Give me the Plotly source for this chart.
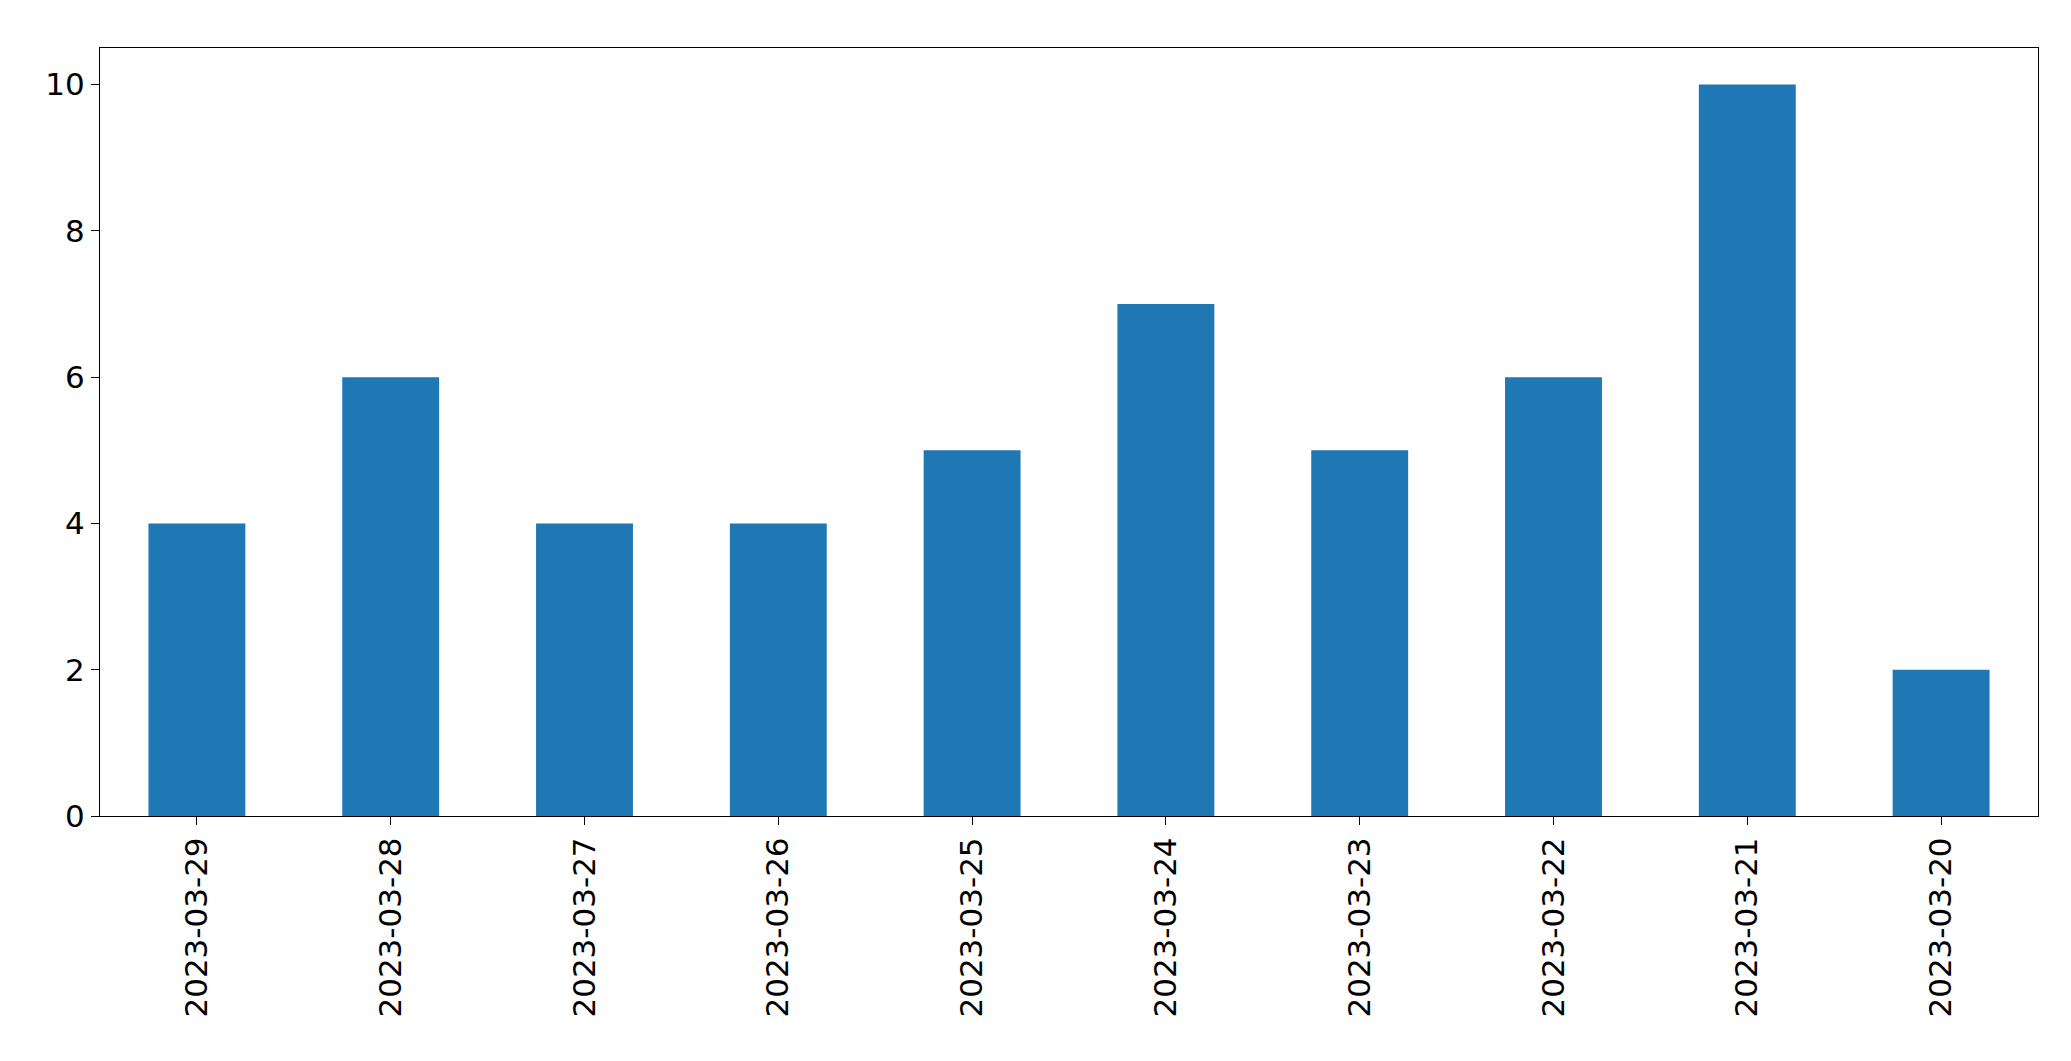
import plotly.graph_objects as go

dates = ["2023-03-29","2023-03-28","2023-03-27","2023-03-26","2023-03-25",
         "2023-03-24","2023-03-23","2023-03-22","2023-03-21","2023-03-20"]
counts = [4, 6, 4, 4, 5, 7, 5, 6, 10, 2]

fig = go.Figure(go.Bar(x=dates, y=counts, marker_color="#1f77b4", width=0.5,
                       marker_line_width=0))
fig.update_layout(
    width=2071, height=1061, plot_bgcolor="white", paper_bgcolor="white",
    margin=dict(l=92, r=41, t=40, b=253),
    font=dict(family="DejaVu Sans", size=31, color="black"),
    showlegend=False, bargap=0.5,
)
fig.update_xaxes(type="category", tickangle=-90, showline=True, linecolor="black",
                 mirror=True, ticks="outside", ticklen=8, tickcolor="black",
                 showgrid=False, range=[-0.5, 9.5])
fig.update_yaxes(range=[0, 10.5], tickvals=[0, 2, 4, 6, 8, 10], showline=True,
                 linecolor="black", mirror=True, ticks="outside", ticklen=8,
                 tickcolor="black", showgrid=False, zeroline=False)
fig.write_html("out.html")
